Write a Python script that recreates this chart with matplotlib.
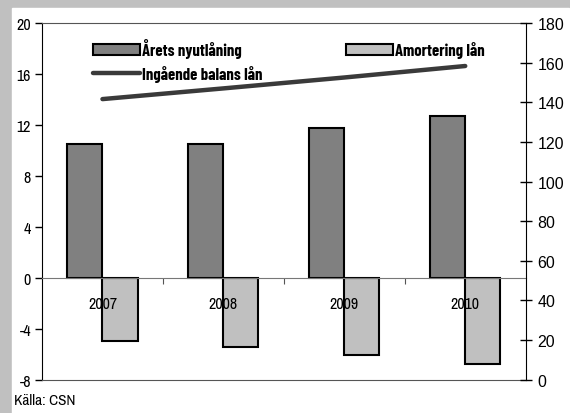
import matplotlib.pyplot as plt
import numpy as np

years = ['2007', '2008', '2009', '2010']
nyutlaning = [10.5, 10.5, 11.75, 12.7]
amortering = [-5.0, -5.4, -6.1, -6.8]
balans = [141.6, 147.0, 152.5, 158.3]

narrow = ['Archivo Narrow', 'DejaVu Sans']
narrow_bold = ['Barlow Condensed', 'DejaVu Sans']

fig = plt.figure(figsize=(5.7, 4.14), dpi=100, facecolor='#c0c0c0')
# white panel
fig.patches.append(plt.Rectangle((12 / 570, 0), (557 / 570), 1 - 9 / 414,
                                 transform=fig.transFigure, color='white', zorder=-5))

ax = fig.add_axes([42 / 570, 1 - 380.7 / 414, (525.7 - 42) / 570, (380.7 - 24) / 414])
ax.set_facecolor('none')
x = np.arange(len(years))
w = 0.29
b1 = ax.bar(x - w / 2, nyutlaning, w, color='#808080', edgecolor='black', linewidth=1.5, zorder=3)
b2 = ax.bar(x + w / 2, amortering, w, color='#c0c0c0', edgecolor='black', linewidth=1.5, zorder=3)
ax.set_xlim(-0.5, 3.5)
ax.set_ylim(-8, 20)
ax.set_yticks(range(-8, 21, 4))
ax.set_yticklabels([str(v) for v in range(-8, 21, 4)], family=narrow, fontsize=11.5)
ax.tick_params(axis='y', direction='out', length=5, width=1, pad=3)
ax.set_xticks([])
for s in ['top', 'bottom']:
    ax.spines[s].set_color('#555555')
ax.spines['left'].set_color('black')
ax.spines['right'].set_visible(False)

# category axis along zero
zx = ax.secondary_xaxis(8 / 28)
zx.set_xticks([0.5, 1.5, 2.5])
zx.set_xticklabels([])
zx.tick_params(direction='out', length=4, color='#555555')
zx.spines['bottom'].set_color('#777777')
zx.set_zorder(4)
lx = ax.secondary_xaxis(8 / 28)
lx.set_xticks(x)
lx.set_xticklabels(years, family=narrow, fontsize=11.5)
lx.tick_params(length=0, pad=13)
lx.spines['bottom'].set_visible(False)
lx.set_zorder(5)

ax2 = ax.twinx()
l1, = ax2.plot(x, balans, color='#3a3a3a', linewidth=3.2, solid_capstyle='round')
ax2.set_ylim(0, 180)
ax2.set_yticks(range(0, 181, 20))
ax2.tick_params(axis='y', direction='inout', length=9, width=1, pad=4)
ax2.set_yticklabels([str(v) for v in range(0, 181, 20)], family='Liberation Sans', fontsize=11.5)
for s in ['top', 'bottom', 'left']:
    ax2.spines[s].set_visible(False)
ax2.spines['right'].set_color('black')

leg = ax.legend([b1, l1, b2], ['Årets nyutlåning', 'Ingående balans lån', 'Amortering lån'],
                ncol=2, frameon=False, loc='upper left', bbox_to_anchor=(0.075, 1.0),
                prop={'family': narrow_bold, 'weight': 'bold', 'size': 12},
                handlelength=2.8, handleheight=0.65, handletextpad=0.15,
                columnspacing=5.0, labelspacing=0.4)

fig.text(14 / 570, 1 - 401 / 414, 'Källa: CSN', family=narrow,
         fontsize=11, va='center', ha='left')

fig.savefig('out.png', dpi=100, facecolor=fig.get_facecolor())
